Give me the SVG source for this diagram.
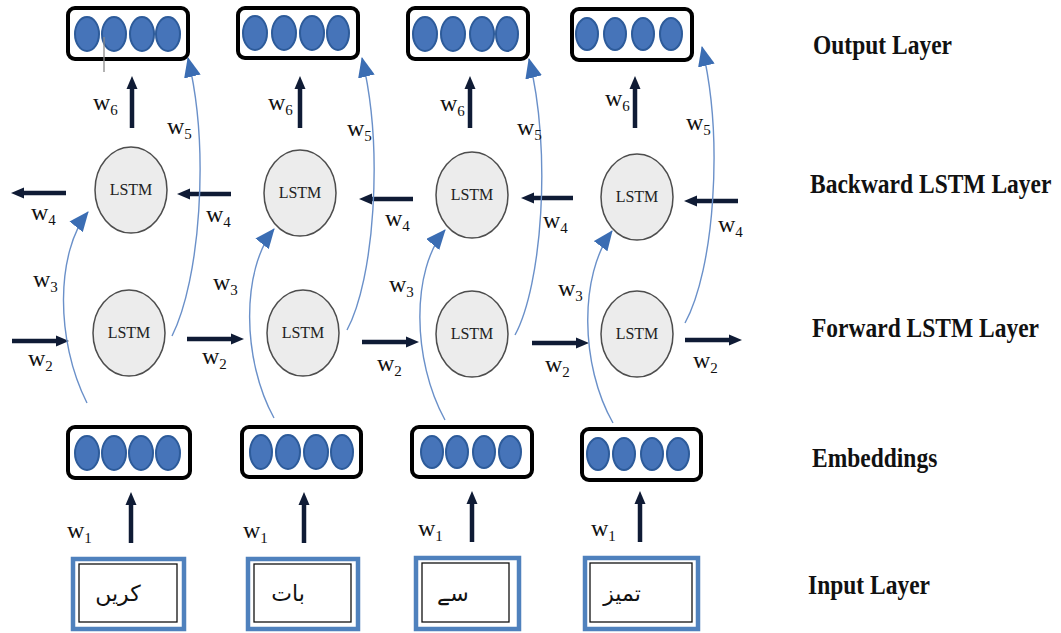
<svg xmlns="http://www.w3.org/2000/svg" width="1061" height="633" viewBox="0 0 1061 633">
<style>
.box{fill:#fff;stroke:#000;stroke-width:4}
.dot{fill:#4674b9;stroke:#2d5b9a;stroke-width:2}
.lstm{fill:#ececec;stroke:#4d4d4d;stroke-width:1.5}
.lt{font-family:"Liberation Serif",serif;font-size:16px;fill:#222;text-anchor:middle}
.w{font-family:"Liberation Serif",serif;font-size:24px;fill:#111}
.sub{font-size:15px}
.lay{font-family:"Liberation Serif",serif;font-size:23.5px;font-weight:bold;fill:#111}
.dark{stroke:#0f1b35;stroke-width:4.5;fill:none;marker-end:url(#dh)}
.blue{stroke:#6a90c9;stroke-width:1.4;fill:none;marker-end:url(#bh)}
.inOut{fill:#fff;stroke:#4f81bd;stroke-width:4.5}
.inIn{fill:#fff;stroke:#111;stroke-width:1.3}
.ur{font-family:"DejaVu Sans",sans-serif;font-size:22px;fill:#111;text-anchor:middle}
</style>
<defs>
<marker id="dh" markerUnits="userSpaceOnUse" markerWidth="13" markerHeight="12" viewBox="0 0 13 12" refX="2" refY="6" orient="auto"><path d="M0,0.5 L13,6 L0,11.5 z" fill="#0f1b35"/></marker>
<marker id="bh" markerUnits="userSpaceOnUse" markerWidth="20" markerHeight="17" viewBox="0 0 20 17" refX="19" refY="8.5" orient="auto"><path d="M0,0 L20,8.5 L0,17 z" fill="#3b6db3"/></marker>
</defs>
<rect width="1061" height="633" fill="#fff"/>

<!-- Output layer -->
<g id="out1"><rect class="box" x="68" y="8" width="120" height="51" rx="7"/>
<ellipse class="dot" cx="87" cy="34" rx="12" ry="17"/><ellipse class="dot" cx="114" cy="34" rx="12" ry="17"/><ellipse class="dot" cx="142" cy="34" rx="12" ry="17"/><ellipse class="dot" cx="168" cy="34" rx="12" ry="17"/></g>
<g id="out2"><rect class="box" x="238" y="8" width="120" height="50" rx="7"/>
<ellipse class="dot" cx="255" cy="33" rx="12" ry="17"/><ellipse class="dot" cx="284" cy="33" rx="12" ry="17"/><ellipse class="dot" cx="312" cy="33" rx="12" ry="17"/><ellipse class="dot" cx="338" cy="33" rx="11" ry="17"/></g>
<g id="out3"><rect class="box" x="408" y="8" width="120" height="51" rx="7"/>
<ellipse class="dot" cx="425" cy="34" rx="12" ry="17"/><ellipse class="dot" cx="453" cy="34" rx="12" ry="17"/><ellipse class="dot" cx="482" cy="34" rx="12" ry="17"/><ellipse class="dot" cx="507" cy="34" rx="11" ry="17"/></g>
<g id="out4"><rect class="box" x="572" y="9" width="120" height="51" rx="7"/>
<ellipse class="dot" cx="587" cy="34" rx="11" ry="16"/><ellipse class="dot" cx="615" cy="34" rx="11" ry="16"/><ellipse class="dot" cx="643" cy="34" rx="11" ry="16"/><ellipse class="dot" cx="671" cy="34" rx="11" ry="16"/></g>
<line x1="104" y1="37" x2="104" y2="72" stroke="#8a8a8a" stroke-width="1.3"/>

<!-- Backward LSTM -->
<g id="bw1"><ellipse class="lstm" cx="131" cy="190" rx="36" ry="43"/><text class="lt" x="131" y="195">LSTM</text></g>
<g id="bw2"><ellipse class="lstm" cx="300" cy="193" rx="36" ry="43"/><text class="lt" x="300" y="198">LSTM</text></g>
<g id="bw3"><ellipse class="lstm" cx="472" cy="195" rx="36" ry="43"/><text class="lt" x="472" y="200">LSTM</text></g>
<g id="bw4"><ellipse class="lstm" cx="637" cy="197" rx="36" ry="43"/><text class="lt" x="637" y="202">LSTM</text></g>

<!-- Forward LSTM -->
<g id="fw1"><ellipse class="lstm" cx="129" cy="333" rx="36" ry="43"/><text class="lt" x="129" y="338">LSTM</text></g>
<g id="fw2"><ellipse class="lstm" cx="303" cy="333" rx="36" ry="43"/><text class="lt" x="303" y="338">LSTM</text></g>
<g id="fw3"><ellipse class="lstm" cx="472" cy="334" rx="36" ry="43"/><text class="lt" x="472" y="339">LSTM</text></g>
<g id="fw4"><ellipse class="lstm" cx="637" cy="334" rx="36" ry="43"/><text class="lt" x="637" y="339">LSTM</text></g>

<!-- Embeddings -->
<g id="emb1"><rect class="box" x="68" y="427" width="122" height="51" rx="7"/>
<ellipse class="dot" cx="87" cy="453" rx="12" ry="17"/><ellipse class="dot" cx="114" cy="453" rx="12" ry="17"/><ellipse class="dot" cx="141" cy="453" rx="12" ry="17"/><ellipse class="dot" cx="168" cy="453" rx="12" ry="17"/></g>
<g id="emb2"><rect class="box" x="242" y="427" width="119" height="50" rx="7"/>
<ellipse class="dot" cx="261" cy="452" rx="11" ry="17"/><ellipse class="dot" cx="288" cy="452" rx="12" ry="17"/><ellipse class="dot" cx="316" cy="452" rx="12" ry="17"/><ellipse class="dot" cx="342" cy="452" rx="11" ry="17"/></g>
<g id="emb3"><rect class="box" x="412" y="427" width="120" height="50" rx="7"/>
<ellipse class="dot" cx="432" cy="452" rx="11" ry="16"/><ellipse class="dot" cx="457" cy="452" rx="11" ry="16"/><ellipse class="dot" cx="484" cy="452" rx="11" ry="16"/><ellipse class="dot" cx="510" cy="452" rx="11" ry="16"/></g>
<g id="emb4"><rect class="box" x="582" y="429" width="119" height="51" rx="7"/>
<ellipse class="dot" cx="598" cy="454" rx="11" ry="16"/><ellipse class="dot" cx="624" cy="454" rx="11" ry="16"/><ellipse class="dot" cx="652" cy="454" rx="11" ry="16"/><ellipse class="dot" cx="678" cy="454" rx="11" ry="16"/></g>

<!-- Input layer -->
<g id="in1"><rect class="inOut" x="73" y="559" width="111" height="70"/><rect class="inIn" x="79" y="564" width="98" height="58"/><text class="ur" x="118" y="601">کریں</text></g>
<g id="in2"><rect class="inOut" x="248" y="559" width="110" height="70"/><rect class="inIn" x="254" y="564" width="97" height="58"/><text class="ur" x="288" y="601">بات</text></g>
<g id="in3"><rect class="inOut" x="416" y="558" width="103" height="71"/><rect class="inIn" x="422" y="563" width="87" height="59"/><text class="ur" x="453" y="601">سے</text></g>
<g id="in4"><rect class="inOut" x="585" y="558" width="113" height="71"/><rect class="inIn" x="590" y="563" width="102" height="59"/><text class="ur" x="622" y="601">تمیز</text></g>

<!-- Connectors -->
<g id="connectors">
<line class="dark" x1="132" y1="128" x2="132" y2="87"/>
<line class="dark" x1="300" y1="128" x2="300" y2="87"/>
<line class="dark" x1="470" y1="128" x2="470" y2="87"/>
<line class="dark" x1="635" y1="128" x2="635" y2="87"/>
<line class="dark" x1="66" y1="193" x2="22" y2="193"/>
<line class="dark" x1="231" y1="194" x2="188" y2="194"/>
<line class="dark" x1="413" y1="199" x2="370" y2="199"/>
<line class="dark" x1="573" y1="198" x2="532" y2="198"/>
<line class="dark" x1="738" y1="201" x2="695" y2="201"/>
<line class="dark" x1="12" y1="341" x2="58" y2="341"/>
<line class="dark" x1="187" y1="339" x2="233" y2="339"/>
<line class="dark" x1="362" y1="342" x2="408" y2="342"/>
<line class="dark" x1="532" y1="343" x2="578" y2="343"/>
<line class="dark" x1="685" y1="340" x2="731" y2="340"/>
<line class="dark" x1="131" y1="543" x2="131" y2="503"/>
<line class="dark" x1="304" y1="543" x2="304" y2="503"/>
<line class="dark" x1="472" y1="542" x2="472" y2="502"/>
<line class="dark" x1="640" y1="542" x2="640" y2="502"/>
<path class="blue" d="M172,336 C200,280 210,150 188,58"/>
<path class="blue" d="M347,330 C374,280 384,150 362,58"/>
<path class="blue" d="M515,335 C542,285 552,150 529,59"/>
<path class="blue" d="M685,323 C714,270 724,140 702,47"/>
<path class="blue" d="M87,403 C55,340 56,252 88,212"/>
<path class="blue" d="M274,418 C242,360 241,270 274,229"/>
<path class="blue" d="M445,420 C412,360 411,270 445,230"/>
<path class="blue" d="M613,423 C580,365 579,275 612,231"/>
</g>

<!-- Weight labels -->
<g id="weights">
<text class="w" x="93" y="110">w<tspan class="sub" dy="5">6</tspan></text>
<text class="w" x="268" y="110">w<tspan class="sub" dy="5">6</tspan></text>
<text class="w" x="440" y="111">w<tspan class="sub" dy="5">6</tspan></text>
<text class="w" x="605" y="106">w<tspan class="sub" dy="5">6</tspan></text>
<text class="w" x="167" y="134">w<tspan class="sub" dy="5">5</tspan></text>
<text class="w" x="347" y="136">w<tspan class="sub" dy="5">5</tspan></text>
<text class="w" x="517" y="135">w<tspan class="sub" dy="5">5</tspan></text>
<text class="w" x="686" y="130">w<tspan class="sub" dy="5">5</tspan></text>
<text class="w" x="31" y="220">w<tspan class="sub" dy="5">4</tspan></text>
<text class="w" x="206" y="222">w<tspan class="sub" dy="5">4</tspan></text>
<text class="w" x="385" y="226">w<tspan class="sub" dy="5">4</tspan></text>
<text class="w" x="543" y="228">w<tspan class="sub" dy="5">4</tspan></text>
<text class="w" x="718" y="232">w<tspan class="sub" dy="5">4</tspan></text>
<text class="w" x="33" y="287">w<tspan class="sub" dy="5">3</tspan></text>
<text class="w" x="213" y="290">w<tspan class="sub" dy="5">3</tspan></text>
<text class="w" x="389" y="292">w<tspan class="sub" dy="5">3</tspan></text>
<text class="w" x="558" y="296">w<tspan class="sub" dy="5">3</tspan></text>
<text class="w" x="28" y="366">w<tspan class="sub" dy="5">2</tspan></text>
<text class="w" x="202" y="364">w<tspan class="sub" dy="5">2</tspan></text>
<text class="w" x="377" y="371">w<tspan class="sub" dy="5">2</tspan></text>
<text class="w" x="545" y="372">w<tspan class="sub" dy="5">2</tspan></text>
<text class="w" x="693" y="368">w<tspan class="sub" dy="5">2</tspan></text>
<text class="w" x="67" y="538">w<tspan class="sub" dy="5">1</tspan></text>
<text class="w" x="243" y="538">w<tspan class="sub" dy="5">1</tspan></text>
<text class="w" x="418" y="536">w<tspan class="sub" dy="5">1</tspan></text>
<text class="w" x="591" y="536">w<tspan class="sub" dy="5">1</tspan></text>
</g>

<!-- Layer labels -->
<g id="layers">
<text class="lay" transform="translate(813,54) scale(1,1.12)">Output Layer</text>
<text class="lay" transform="translate(810,193) scale(1,1.12)">Backward LSTM Layer</text>
<text class="lay" transform="translate(812,337) scale(1,1.12)">Forward LSTM Layer</text>
<text class="lay" transform="translate(812,467) scale(1,1.12)">Embeddings</text>
<text class="lay" transform="translate(808,594) scale(1,1.12)">Input Layer</text>
</g>
</svg>
